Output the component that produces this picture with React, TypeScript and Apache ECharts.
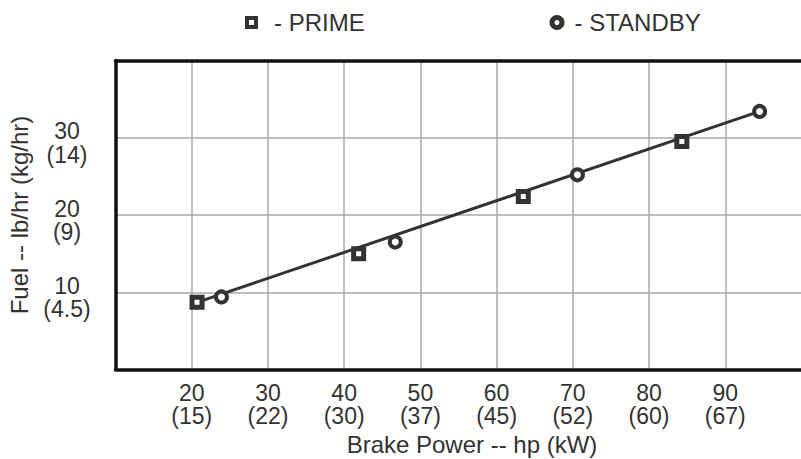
import React, { useEffect, useRef } from "react";
import * as echarts from "echarts";

// Tick labels
const xTicks = [20, 30, 40, 50, 60, 70, 80, 90];
const xTicksKW = ["15", "22", "30", "37", "45", "52", "60", "67"];
const yTicks = [10, 20, 30];
const yTicksKg = ["4.5", "9", "14"];

// Series values: [hp, lb/hr]
const primePoints = [
  [20.7, 8.7],
  [41.9, 15.0],
  [63.5, 22.4],
  [84.3, 29.5],
];
const standbyPoints = [
  [23.9, 9.4],
  [46.7, 16.5],
  [70.6, 25.2],
  [94.5, 33.4],
];
const fitLine = [
  [20.7, 8.7],
  [94.5, 33.4],
];

const FONT = "'Liberation Sans', Arial, Helvetica, sans-serif";
const TEXT = "#333";
const DARK = "#333";
const BORDER = "#111";

export default function App() {
  const ref = useRef<HTMLDivElement>(null);
  useEffect(() => {
    if (!ref.current) return;
    const chart = echarts.init(ref.current, undefined, { renderer: "svg" });
    chart.setOption({
      animation: false,
      backgroundColor: "#fff",
      textStyle: { fontFamily: FONT },
      legend: [
        {
          data: ["PRIME"],
          left: 245,
          top: 10.5,
          padding: 0,
          icon: "rect",
          itemWidth: 9,
          itemHeight: 9,
          selectedMode: false,
          formatter: "- {name}",
          itemStyle: { color: "#fff", borderColor: DARK, borderWidth: 4 },
          textStyle: { fontSize: 24, color: TEXT, fontFamily: FONT, padding: [0, 0, 0, 13] },
        },
        {
          data: ["STANDBY"],
          left: 549.5,
          top: 10.5,
          padding: 0,
          icon: "circle",
          itemWidth: 10,
          itemHeight: 10,
          selectedMode: false,
          formatter: "- {name}",
          itemStyle: { color: "#fff", borderColor: DARK, borderWidth: 5 },
          textStyle: { fontSize: 24, color: TEXT, fontFamily: FONT, padding: [0, 0, 0, 7.5] },
        },
      ],
      grid: {
        left: 115.5,
        top: 60.4,
        width: 686,
        height: 309.2,
        containLabel: false,
        outerBoundsMode: "none",
      },
      xAxis: [
        {
          type: "value",
          position: "bottom",
          min: 10,
          max: 100,
          interval: 10,
          name: "Brake Power -- hp (kW)",
          nameLocation: "middle",
          nameGap: 62,
          nameTextStyle: { fontSize: 24, color: TEXT, fontFamily: FONT, padding: [0, 0, 0, 27] },
          axisLine: { show: true, onZero: false, lineStyle: { color: BORDER, width: 3.5 } },
          axisTick: { show: false },
          axisLabel: {
            fontSize: 23,
            lineHeight: 23.5,
            color: TEXT,
            fontFamily: FONT,
            margin: 11.25,
            formatter: (v: number) => {
              const i = xTicks.indexOf(v);
              return i < 0 ? "" : `${v}\n(${xTicksKW[i]})`;
            },
          },
          splitLine: { show: true, showMinLine: false, showMaxLine: false, lineStyle: { color: "#aaa", width: 1.5 } },
        },
        {
          type: "value",
          position: "top",
          min: 10,
          max: 100,
          interval: 10,
          axisLine: { show: true, onZero: false, lineStyle: { color: BORDER, width: 3.5 } },
          axisTick: { show: false },
          axisLabel: { show: false },
          splitLine: { show: false },
        },
      ],
      yAxis: {
        type: "value",
        min: 0,
        max: 40,
        interval: 10,
        name: "Fuel -- lb/hr (kg/hr)",
        nameLocation: "middle",
        nameGap: 84,
        nameTextStyle: { fontSize: 24, color: TEXT, fontFamily: FONT },
        axisLine: { show: true, onZero: false, lineStyle: { color: BORDER, width: 3.5 } },
        axisTick: { show: false },
        axisLabel: {
          color: TEXT,
          fontFamily: FONT,
          fontSize: 23,
          align: "center",
          margin: 48.5,
          formatter: (v: number) => {
            const i = yTicks.indexOf(v);
            return i < 0 ? "" : `{a|${v}}\n{b|(${yTicksKg[i]})}`;
          },
          rich: {
            a: { fontSize: 23, lineHeight: 34, color: TEXT, fontFamily: FONT, align: "center" },
            b: { fontSize: 23, lineHeight: 13, color: TEXT, fontFamily: FONT, align: "center" },
          },
        },
        splitLine: { show: true, showMinLine: false, showMaxLine: false, lineStyle: { color: "#aaa", width: 1.5 } },
      },
      series: [
        {
          name: "fit",
          type: "line",
          data: fitLine,
          symbol: "none",
          lineStyle: { color: DARK, width: 3 },
          z: 2,
          silent: true,
        },
        {
          name: "PRIME",
          type: "scatter",
          data: primePoints,
          symbol: "rect",
          symbolSize: 10,
          itemStyle: { color: "#fff", borderColor: DARK, borderWidth: 5, opacity: 1 },
          z: 3,
        },
        {
          name: "STANDBY",
          type: "scatter",
          data: standbyPoints,
          symbol: "circle",
          symbolSize: 11,
          itemStyle: { color: "#fff", borderColor: DARK, borderWidth: 4, opacity: 1 },
          z: 3,
        },
      ],
    });
    return () => chart.dispose();
  }, []);
  return (
    <div
      ref={ref}
      style={{ position: "absolute", left: 0, top: 0, width: 801, height: 459 }}
    />
  );
}
